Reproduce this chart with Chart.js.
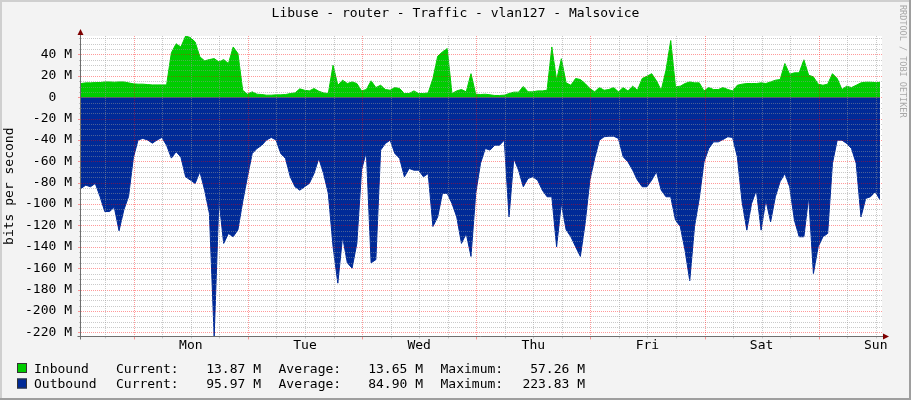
<!DOCTYPE html>
<html>
<head>
<meta charset="utf-8">
<title>Libuse - router - Traffic - vlan127 - Malsovice</title>
<script src="https://cdn.jsdelivr.net/npm/chart.js@4.4.1/dist/chart.umd.min.js"></script>
<style>
  html, body { margin: 0; padding: 0; background: #f3f3f3; }
  canvas { display: block; }
</style>
</head>
<body>
<canvas id="traffic" width="911" height="400"></canvas>
<script>
const chartTitle = "Libuse - router - Traffic - vlan127 - Malsovice";
const watermark = "RRDTOOL / TOBI OETIKER";

// one sample per hour, first sample 23.1 h before Mon 00:00
const startHour = -23.1;
const dayNames = ["Mon", "Tue", "Wed", "Thu", "Fri", "Sat", "Sun"];
const yTickValues = [-220, -200, -180, -160, -140, -120, -100, -80, -60, -40, -20, 0, 20, 40];
const yMin = -223.83;
const yMax = 57.26;

// Mbit/s
const inbound = [
  12.8, 13.4, 13.4, 13.7, 13.7, 14.3, 14.3, 14.0, 14.3, 14.3, 13.4, 12.5, 12.2, 12.2, 11.8, 11.5, 11.5, 11.5, 11.5, 41.5,
  50.0, 47.0, 57.26, 55.8, 51.7, 37.7, 34.0, 35.2, 36.1, 33.0, 35.2, 31.5, 47.0, 40.8, 6.5, 2.8, 5.0, 2.8, 2.5, 1.9,
  1.9, 2.2, 2.2,
  2.5, 3.4, 4.0, 7.8, 6.5, 5.9, 8.1, 5.6, 4.0, 3.4, 30.0, 11.2, 15.9, 12.8, 14.3, 12.8, 5.9, 7.2, 15.3, 9.0,
  11.2, 7.2, 6.5, 9.0, 8.1, 3.4, 3.4, 5.9, 3.4, 3.4, 4.0, 17.5, 38.3, 42.4, 45.5, 3.4, 5.9, 7.2, 5.0, 22.0,
  2.8, 2.5,
  2.8, 2.2, 1.6, 1.6, 1.9, 3.4, 4.7, 4.7, 10.0, 5.0, 5.0, 5.9, 5.9, 6.5, 47.0, 15.9, 36.0, 13.4, 11.2, 17.5,
  16.5, 12.8, 8.1, 5.0, 9.0, 6.5, 7.2, 9.0, 5.0, 9.0, 5.9, 10.3, 6.5, 17.5, 19.6, 22.0, 15.3, 6.5, 25.2, 53.0,
  9.7, 10.3,
  12.8, 14.3, 13.4, 13.4, 5.9, 9.0, 7.2, 7.2, 9.0, 7.2, 5.9, 11.2, 12.2, 12.8, 12.8, 12.8, 13.4, 12.8, 14.3, 15.9,
  16.5, 31.5, 21.5, 22.8, 22.8, 35.0, 20.6, 19.0, 12.2, 11.2, 12.2, 22.0, 17.5, 7.2, 10.3, 9.0, 11.2, 13.4, 14.0, 14.0,
  13.7, 13.87
];

// Mbit/s, drawn below zero
const outbound = [
  85.4, 82.3, 83.8, 80.7, 93.0, 107.0, 107.0, 103.0, 125.0, 105.6, 93.0, 57.0, 40.0, 38.6, 40.0, 43.0, 40.0, 37.7, 45.0, 57.0,
  51.0, 56.0, 74.5, 77.6, 80.7, 69.8, 87.0, 108.8, 223.83, 96.0, 136.8, 127.5, 130.6, 124.0, 97.9, 74.5, 52.7, 48.0, 45.0, 40.0,
  37.7, 40.0, 52.7,
  57.3, 74.5, 83.8, 87.0, 83.8, 80.7, 71.4, 57.3, 71.4, 90.0, 140.0, 174.0, 130.6, 155.0, 160.0, 136.8, 68.0, 51.0, 155.0, 152.0,
  49.5, 43.3, 40.2, 52.7, 57.3, 74.5, 66.7, 68.3, 68.3, 74.5, 71.4, 121.0, 112.0, 90.0, 90.0, 99.4, 112.0, 136.8, 127.5, 149.0,
  90.0, 62.0,
  48.0, 49.5, 44.9, 44.9, 40.2, 112.0, 57.3, 68.3, 83.8, 76.0, 74.5, 77.6, 87.0, 93.2, 93.2, 140.0, 99.4, 124.0, 130.6, 140.0,
  149.0, 118.0, 77.6, 57.3, 40.2, 37.0, 36.5, 36.5, 38.6, 55.8, 60.5, 68.3, 77.6, 83.8, 83.8, 77.6, 69.8, 87.0, 93.2, 93.2,
  115.0, 121.0,
  143.0, 171.7, 121.0, 94.7, 60.5, 48.0, 41.8, 41.8, 39.6, 37.0, 37.7, 55.8, 97.9, 124.4, 99.4, 87.0, 124.4, 96.3, 116.6, 93.2,
  79.0, 71.4, 83.8, 115.0, 130.6, 130.6, 93.2, 165.0, 140.0, 130.6, 127.5, 62.0, 40.2, 40.2, 43.3, 48.0, 62.0, 112.0, 94.7, 93.2,
  88.5, 95.97
];

const seriesNames = ["Inbound", "Outbound"];
const currentValues = ["13.87 M", "95.97 M"];
const averageValues = ["13.65 M", "84.90 M"];
const maximumValues = ["57.26 M", "223.83 M"];

const colors = ["#00cc00", "#002a97"];
const MONO = "'DejaVu Sans Mono', monospace";

const rrdPlugin = {
  id: "rrd",
  beforeDraw(chart) {
    const { ctx, width, height, chartArea: a } = chart;
    ctx.save();
    ctx.fillStyle = "#f3f3f3";
    ctx.fillRect(0, 0, width, height);
    ctx.fillStyle = "#cfcfcf";
    ctx.fillRect(0, 0, width, 2);
    ctx.fillRect(0, 0, 2, height);
    ctx.fillStyle = "#9e9e9e";
    ctx.fillRect(0, height - 2, width, 2);
    ctx.fillRect(width - 2, 0, 2, height);
    ctx.fillStyle = "#ffffff";
    ctx.fillRect(a.left, a.top, a.right - a.left + 2, a.bottom - a.top);
    ctx.restore();
  },
  afterDatasetsDraw(chart) {
    const { ctx, chartArea: a } = chart;
    const xs = chart.scales.x;
    const ys = chart.scales.y;
    const minor = "rgba(150, 150, 150, 0.5)";
    const major = "rgba(255, 0, 0, 0.4)";
    ctx.save();
    ctx.lineWidth = 1;

    // horizontal grid, 5 M minor / 20 M major
    for (let v = -220; v <= yMax; v += 5) {
      const y = Math.round(ys.getPixelForValue(v)) + 0.5;
      const isMajor = v % 20 === 0;
      ctx.strokeStyle = isMajor ? major : minor;
      ctx.setLineDash([1, 1]);
      ctx.beginPath();
      ctx.moveTo(a.left, y);
      ctx.lineTo(a.right + 2, y);
      ctx.stroke();
      ctx.setLineDash([]);
      ctx.beginPath();
      ctx.moveTo(a.left - (isMajor ? 3 : 2), y);
      ctx.lineTo(a.left, y);
      ctx.stroke();
    }

    // vertical grid, 6 h minor / noon major
    for (let h = -18; h <= 144; h += 6) {
      const x = Math.round(xs.getPixelForValue(h)) + 0.5;
      const isMajor = ((h % 24) + 24) % 24 === 12;
      ctx.strokeStyle = isMajor ? major : minor;
      ctx.setLineDash([1, 1]);
      ctx.beginPath();
      ctx.moveTo(x, a.top);
      ctx.lineTo(x, a.bottom);
      ctx.stroke();
      ctx.setLineDash([]);
      ctx.beginPath();
      ctx.moveTo(x, a.bottom);
      ctx.lineTo(x, a.bottom + (isMajor ? 3 : 2));
      ctx.stroke();
    }

    // axes with arrows
    const ax = Math.round(a.left) - 0.5;
    const ay = Math.round(a.bottom) + 0.5;
    ctx.strokeStyle = "#6e6e6e";
    ctx.beginPath();
    ctx.moveTo(ax, a.top - 4);
    ctx.lineTo(ax, ay + 3);
    ctx.moveTo(ax - 3, ay);
    ctx.lineTo(a.right + 4, ay);
    ctx.stroke();
    ctx.fillStyle = "#7f0000";
    ctx.beginPath();
    ctx.moveTo(ax, a.top - 7);
    ctx.lineTo(ax - 3, a.top - 1);
    ctx.lineTo(ax + 3, a.top - 1);
    ctx.closePath();
    ctx.fill();
    ctx.beginPath();
    ctx.moveTo(a.right + 9, ay);
    ctx.lineTo(a.right + 3, ay - 3);
    ctx.lineTo(a.right + 3, ay + 3);
    ctx.closePath();
    ctx.fill();
    ctx.restore();
  },
  afterDraw(chart) {
    const { ctx } = chart;
    ctx.save();
    ctx.font = "13px " + MONO;
    ctx.textBaseline = "alphabetic";
    seriesNames.forEach((name, i) => {
      const base = 372.5 + i * 15.5;
      ctx.fillStyle = colors[i];
      ctx.fillRect(17, base - 9.5, 10, 10);
      ctx.strokeStyle = "#333";
      ctx.lineWidth = 1;
      ctx.strokeRect(17.5, base - 9, 9, 9);
      ctx.fillStyle = "#000";
      ctx.textAlign = "left";
      ctx.fillText(name, 34, base);
      ctx.fillText("Current:", 116, base);
      ctx.fillText("Average:", 278.5, base);
      ctx.fillText("Maximum:", 440.5, base);
      ctx.textAlign = "right";
      ctx.fillText(currentValues[i], 261, base);
      ctx.fillText(averageValues[i], 423, base);
      ctx.fillText(maximumValues[i], 585, base);
    });

    ctx.translate(902.5, 5);
    ctx.rotate(Math.PI / 2);
    ctx.font = "8.5px " + MONO;
    ctx.fillStyle = "#a8a8a8";
    ctx.textAlign = "left";
    ctx.textBaseline = "middle";
    ctx.fillText(watermark, 0, 0);
    ctx.restore();
  }
};

const tickFont = { family: MONO, size: 13 };

new Chart(document.getElementById("traffic"), {
  type: "line",
  data: {
    datasets: [
      {
        label: seriesNames[0],
        data: inbound.map((v, i) => ({ x: startHour + i, y: v })),
        backgroundColor: colors[0],
        borderColor: colors[0],
        borderWidth: 1,
        fill: "origin",
        pointRadius: 0,
        tension: 0,
      },
      {
        label: seriesNames[1],
        data: outbound.map((v, i) => ({ x: startHour + i, y: -v })),
        backgroundColor: colors[1],
        borderColor: colors[1],
        borderWidth: 1,
        fill: "origin",
        pointRadius: 0,
        tension: 0,
      },
    ],
  },
  options: {
    responsive: false,
    animation: false,
    layout: { padding: 0 },
    plugins: {
      legend: { display: false },
      tooltip: { enabled: false },
      title: {
        display: true,
        text: chartTitle,
        color: "#000",
        font: { family: MONO, size: 13, weight: "normal" },
        padding: { top: 6, bottom: 14.4 },
      },
    },
    scales: {
      x: {
        type: "linear",
        min: startHour,
        max: startHour + 168,
        afterBuildTicks(s) {
          s.ticks = dayNames.map((d, i) => ({ value: i * 24 }));
        },
        afterFit(s) {
          s.height = 63.6;
        },
        ticks: {
          autoSkip: false,
          maxRotation: 0,
          padding: 1,
          color: "#000",
          font: tickFont,
          callback: (v) => dayNames[Math.round(v / 24)] || "",
        },
        grid: { display: false, drawTicks: false },
        border: { display: false },
      },
      y: {
        min: yMin,
        max: yMax,
        afterBuildTicks(s) {
          s.ticks = yTickValues.map((v) => ({ value: v }));
        },
        afterFit(s) {
          s.width = 81;
        },
        ticks: {
          padding: 9,
          color: "#000",
          font: tickFont,
          // zero has no unit; keep it in the digit column
          callback: (v) => (v === 0 ? "0\u00a0\u00a0" : v + " M"),
        },
        grid: { display: false, drawTicks: false },
        border: { display: false },
        title: {
          display: true,
          text: "bits per second",
          color: "#000",
          font: tickFont,
          padding: { top: 2, bottom: 0 },
        },
      },
      yRight: {
        position: "right",
        display: true,
        ticks: { display: false },
        grid: { display: false, drawTicks: false },
        border: { display: false },
        afterFit(s) {
          s.width = 31;
        },
      },
    },
  },
  plugins: [rrdPlugin],
});
</script>
</body>
</html>
